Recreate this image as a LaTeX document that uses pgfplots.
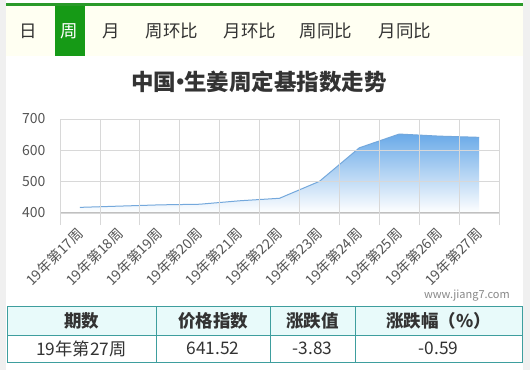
\documentclass[border=0pt]{standalone}
\usepackage{pgfplots}
\pgfplotsset{compat=1.18}
\usepackage{fontspec}
\setmainfont{Noto Sans CJK SC}
\definecolor{tabgreen}{HTML}{169A16}
\definecolor{topgreen}{HTML}{2A9A2A}
\definecolor{tabbg}{HTML}{FFFFF2}
\definecolor{sidegray}{HTML}{F0F0F0}
\definecolor{txt}{HTML}{333333}
\definecolor{ticktxt}{HTML}{555555}
\definecolor{gridc}{HTML}{D8D8D8}
\definecolor{axisc}{HTML}{C0C0C0}
\definecolor{areatop}{HTML}{6AAAE8}
\definecolor{linec}{HTML}{74A8DC}
\definecolor{tblborder}{HTML}{3E9E9E}
\definecolor{tblhead}{HTML}{E8FAFA}
\definecolor{wm}{HTML}{888888}
\pgfplotstableread{
x y
0 418
1 422
2 426
3 428
4 439
5 447
6 501
7 608
8 652
9 645.35
10 641.52
}\ginger
\begin{document}
\begin{tikzpicture}[x=1pt,y=1pt]
\path[use as bounding box] (0,0) rectangle (530,-370);
\fill[sidegray] (0,0) rectangle (530,-370);
\fill[white] (6,0) rectangle (523,-370);
% tab bar
\fill[tabbg] (6,-5) rectangle (523,-56);
\fill[topgreen] (6,-3.4) rectangle (523,-5.6);
\fill[tabgreen] (55,-5.6) rectangle (84.5,-56);
\begin{scope}[every node/.style={font=\fontsize{17.5pt}{20pt}\selectfont, text=txt, inner sep=0pt}]
\node at (28,-31) {日};
\node[text=white] at (69.5,-31) {周};
\node at (111.5,-31) {月};
\node at (172,-31) {周环比};
\node at (250,-31) {月环比};
\node at (326,-31) {周同比};
\node at (405,-31) {月同比};
\end{scope}
% title
\node[font=\fontsize{22.5pt}{24pt}\selectfont\bfseries, text=txt, inner sep=0pt] at (259,-82) {中国\kern-0.33em·\kern-0.33em 生姜周定基指数走势};
% chart
\begin{axis}[
  at={(60pt,-213pt)}, anchor=south west,
  scale only axis, width=439pt, height=94pt,
  xmin=-0.5, xmax=10.5, ymin=400, ymax=700,
  xtick={0,...,10},
  xticklabels={19年第17周,19年第18周,19年第19周,19年第20周,19年第21周,19年第22周,19年第23周,19年第24周,19年第25周,19年第26周,19年第27周},
  minor xtick={-0.5,0.5,...,10.5},
  xminorgrids=true, ymajorgrids=true,
  ytick={400,500,600,700},
  major tick length=0pt, minor tick length=12pt,
  tick align=outside, xtick pos=left, ytick pos=left,
  minor tick style={draw=gridc, line width=0.8pt},
  grid style={draw=gridc, line width=0.8pt},
  minor grid style={draw=gridc, line width=0.8pt},
  axis line style={draw=gridc, line width=0.8pt},
  /pgf/number format/assume math mode=true,
  yticklabel style={font=\fontsize{14pt}{16pt}\selectfont, text=ticktxt, xshift=-11pt},
  xticklabel style={font=\fontsize{14pt}{16pt}\selectfont, text=ticktxt, rotate=45, anchor=north east, xshift=-12.4pt, yshift=-6.3pt, inner sep=0pt},
  axis on top,
  clip=false,
]
\addplot[draw=none, shading=axis, top color=areatop, bottom color=white, shading angle=0] table[x=x,y=y] {\ginger} \closedcycle;
\addplot[linec, line width=1pt] table[x=x,y=y] {\ginger};
\draw[axisc, line width=1.2pt] (axis cs:-0.5,400) -- (axis cs:10.5,400);
\end{axis}
% watermark
\node[font=\fontsize{11pt}{13pt}\selectfont, text=wm, anchor=east, inner sep=0pt] at (510,-296) {www.jiang7.com};
% table
\fill[tblhead] (7,-306) rectangle (522,-335);
\draw[tblborder, line width=1pt] (7,-306) rectangle (522,-362);
\draw[tblborder, line width=1pt] (7,-335) -- (522,-335);
\foreach \xx in {156,270,355} \draw[tblborder, line width=1pt] (\xx,-306) -- (\xx,-362);
\begin{scope}[every node/.style={font=\fontsize{17.3pt}{19pt}\selectfont, text=txt, inner sep=0pt}]
\node[font=\fontsize{17.5pt}{19pt}\selectfont\bfseries] at (81.5,-320.5) {期数};
\node[font=\fontsize{17.5pt}{19pt}\selectfont\bfseries] at (213,-320.5) {价格指数};
\node[font=\fontsize{17.5pt}{19pt}\selectfont\bfseries] at (312.5,-320.5) {涨跌值};
\node[font=\fontsize{17.5pt}{19pt}\selectfont\bfseries] at (438.5,-320.5) {涨跌幅（\%）};
\node at (81.5,-348.5) {19年第27周};
\node at (213,-348.5) {641.52};
\node at (312.5,-348.5) {-3.83};
\node at (438.5,-348.5) {-0.59};
\end{scope}
\end{tikzpicture}
\end{document}
